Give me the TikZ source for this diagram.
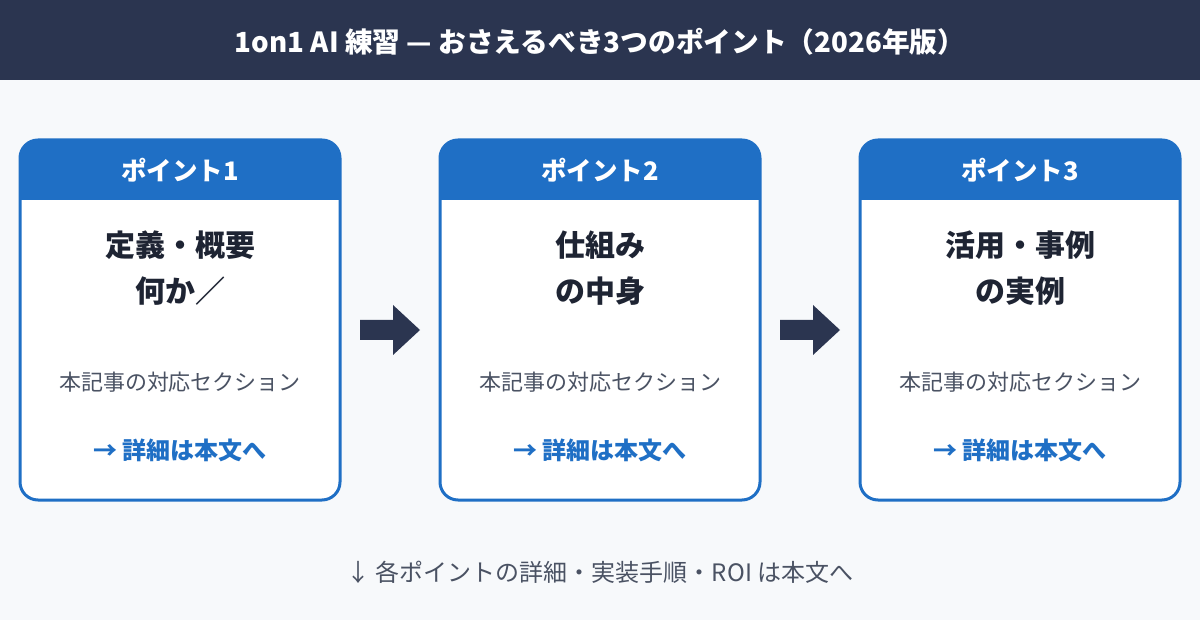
\documentclass[tikz,border=0pt]{standalone}
\usepackage{fontspec}
\setmainfont{Noto Sans CJK JP}
\definecolor{navy}{HTML}{2B3550}
\definecolor{bg}{HTML}{F7F9FB}
\definecolor{blu}{HTML}{1F6FC5}
\definecolor{ink}{HTML}{1E2433}
\definecolor{gry}{HTML}{4A5263}
\begin{document}
\begin{tikzpicture}[x=1pt,y=-1pt,
 card/.style={draw=blu,line width=3pt,rounded corners=18pt},
 chead/.style={font=\fontsize{25.5}{30}\selectfont\bfseries,text=white},
 ttl/.style={font=\fontsize{30}{46}\selectfont\bfseries,text=ink,align=center},
 sec/.style={font=\fontsize{22}{26}\selectfont,text=gry},
 more/.style={font=\fontsize{24}{28}\selectfont\bfseries,text=blu}]
\useasboundingbox (0,0) rectangle (1200,620);
\fill[bg] (0,0) rectangle (1200,620);
\fill[navy] (0,0) rectangle (1200,80);
\node[font=\fontsize{27.7}{32}\selectfont\bfseries,text=white] (title) at (600,42) {1on1 AI 練習 — おさえるべき3つのポイント（2026年版）};
\foreach \i/\x/\a/\b in {1/20/定義・概要/何か／,2/440/仕組み/の中身,3/860/活用・事例/の実例}{
 \begin{scope}
 \clip[rounded corners=18pt] (\x,140) rectangle (\x+320,500);
 \fill[white] (\x,140) rectangle (\x+320,500);
 \fill[blu] (\x,140) rectangle (\x+320,200);
 \end{scope}
 \draw[card] (\x,140) rectangle (\x+320,500);
 \node[chead] (h\i) at (\x+160,170) {ポイント\i};
 \node[ttl] (t\i) at (\x+160,268) {\a\\\b};
 \node[sec] (s\i) at (\x+160,382) {本記事の対応セクション};
 \node[more] (m\i) at (\x+160,450) {→ 詳細は本文へ};
}
\fill[navy] (360,320)--(393,320)--(393,305)--(420,330)--(393,355)--(393,340)--(360,340)--cycle;
\fill[navy] (780,320)--(813,320)--(813,305)--(840,330)--(813,355)--(813,340)--(780,340)--cycle;
\node[font=\fontsize{24}{28}\selectfont,text=gry] (foot) at (600,572) {↓ 各ポイントの詳細・実装手順・ROI は本文へ};
\end{tikzpicture}
\end{document}
